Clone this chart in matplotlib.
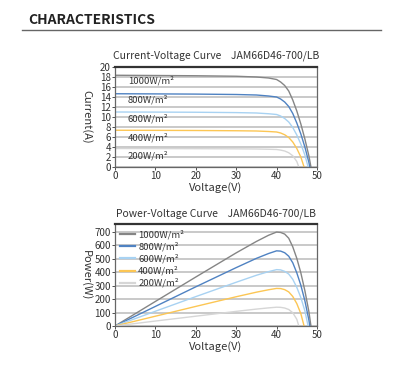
import matplotlib
matplotlib.use("Agg")
import matplotlib.pyplot as plt

plt.rcParams['font.family'] = ['Noto Sans CJK SC', 'DejaVu Sans']

# irradiance levels and colours
labels = ['1000W/m²', '800W/m²', '600W/m²', '400W/m²', '200W/m²']
colors = ['#858585', '#4f82c2', '#a8d2f2', '#fcc654', '#d6d6d6']

# I-V curves (voltage V, current A)
v_1000 = [0, 10, 20, 30, 35, 38, 40, 41, 42, 43, 44, 45, 46, 47, 48, 48.5]
i_1000 = [18.35, 18.3, 18.25, 18.15, 18.0, 17.8, 17.5, 17.0, 16.3, 15.2, 13.4, 11.2, 8.6, 5.6, 2.2, 0]
v_800 = [0, 10, 20, 30, 35, 38, 40, 41, 42, 43, 44, 45, 46, 47, 48, 48.2]
i_800 = [14.65, 14.62, 14.58, 14.5, 14.4, 14.2, 14.0, 13.6, 13.0, 12.1, 10.7, 8.8, 6.6, 4.0, 0.9, 0]
v_600 = [0, 10, 20, 30, 35, 38, 40, 41, 42, 43, 44, 45, 46, 47, 47.8]
i_600 = [11.0, 10.98, 10.95, 10.88, 10.8, 10.65, 10.5, 10.2, 9.7, 9.0, 7.9, 6.4, 4.6, 2.4, 0]
v_400 = [0, 10, 20, 30, 35, 38, 40, 41, 42, 43, 44, 45, 46, 46.8]
i_400 = [7.35, 7.33, 7.3, 7.25, 7.2, 7.1, 7.0, 6.8, 6.45, 5.9, 5.0, 3.7, 2.0, 0]
v_200 = [0, 10, 20, 30, 35, 38, 40, 41, 42, 43, 44, 45, 45.5]
i_200 = [3.7, 3.68, 3.66, 3.63, 3.6, 3.55, 3.5, 3.38, 3.2, 2.85, 2.25, 1.1, 0]

# P-V curves (power W)
p_1000 = [0, 183, 365, 545, 630, 676, 700, 697, 685, 654, 590, 504, 396, 263, 106, 0]
p_800 = [0, 146, 292, 435, 504, 540, 560, 558, 546, 520, 471, 396, 304, 188, 43, 0]
p_600 = [0, 110, 219, 326, 378, 405, 420, 418, 407, 387, 348, 288, 212, 113, 0]
p_400 = [0, 73, 146, 218, 252, 270, 280, 279, 271, 254, 220, 167, 92, 0]
p_200 = [0, 37, 73, 109, 126, 135, 140, 139, 134, 123, 99, 50, 0]

volts = [v_1000, v_800, v_600, v_400, v_200]
currents = [i_1000, i_800, i_600, i_400, i_200]
powers = [p_1000, p_800, p_600, p_400, p_200]

# where the irradiance labels sit in the I-V chart
iv_label_y = [17.2, 13.4, 9.6, 5.9, 2.2]

txt = '#333333'

fig = plt.figure(figsize=(3.97, 3.67), dpi=100)

# header
fig.text(28 / 397, 1 - 20 / 367, 'CHARACTERISTICS', fontsize=10, fontweight='bold',
         color='#222222', va='center', ha='left')
fig.add_artist(plt.Line2D([22 / 397, 381 / 397], [1 - 30 / 367, 1 - 30 / 367],
                          color='#666666', lw=1))


def style(ax, ylab):
    ax.set_xlim(0, 50)
    ax.set_xticks([0, 10, 20, 30, 40, 50])
    for s in ['left', 'right', 'bottom']:
        ax.spines[s].set_color('#666666')
        ax.spines[s].set_linewidth(0.9)
    ax.spines['top'].set_color('#333333')
    ax.spines['top'].set_linewidth(1.6)
    ax.grid(axis='y', color='#c9c9c9', lw=1.4)
    ax.set_axisbelow(True)
    ax.tick_params(labelsize=7, colors=txt, length=2, width=0.6, pad=1)
    ax.set_xlabel('Voltage(V)', fontsize=8, color=txt, labelpad=1)
    ax.set_ylabel(ylab, fontsize=8, color=txt, rotation=270, va='center', ha='center')
    ax.yaxis.set_label_coords(-0.14, 0.5)


# I-V chart
ax1 = fig.add_axes([115 / 397, 1 - 167 / 367, 202 / 397, 100 / 367])
for v, i, c in zip(volts, currents, colors):
    ax1.plot(v, i, color=c, lw=1)
ax1.set_ylim(0, 20)
ax1.set_yticks(range(0, 21, 2))
style(ax1, 'Current(A)')
for lab, y in zip(labels, iv_label_y):
    ax1.text(3.2, y, lab, fontsize=6.8, color=txt, va='center', ha='left')
ax1.set_title('Current-Voltage Curve    JAM66D46-700/LB', fontsize=7.5, color=txt, pad=6)

# P-V chart
ax2 = fig.add_axes([115 / 397, 1 - 326 / 367, 202 / 397, 102 / 367])
for v, p, c, lab in zip(volts, powers, colors, labels):
    ax2.plot(v, p, color=c, lw=1, label=lab)
ax2.set_ylim(0, 760)
ax2.set_yticks(range(0, 701, 100))
style(ax2, 'Power(W)')
leg = ax2.legend(loc='upper left', frameon=False, fontsize=6.8, handlelength=1.6,
                 handletextpad=0.3, labelspacing=0.28, borderaxespad=0.0, borderpad=0.3,
                 bbox_to_anchor=(0.012, 0.97))
for t in leg.get_texts():
    t.set_color(txt)
for h in leg.get_lines():
    h.set_linewidth(1.6)
ax2.set_title('Power-Voltage Curve    JAM66D46-700/LB', fontsize=7.5, color=txt, pad=5.5)

fig.savefig('out.png', dpi=100)
